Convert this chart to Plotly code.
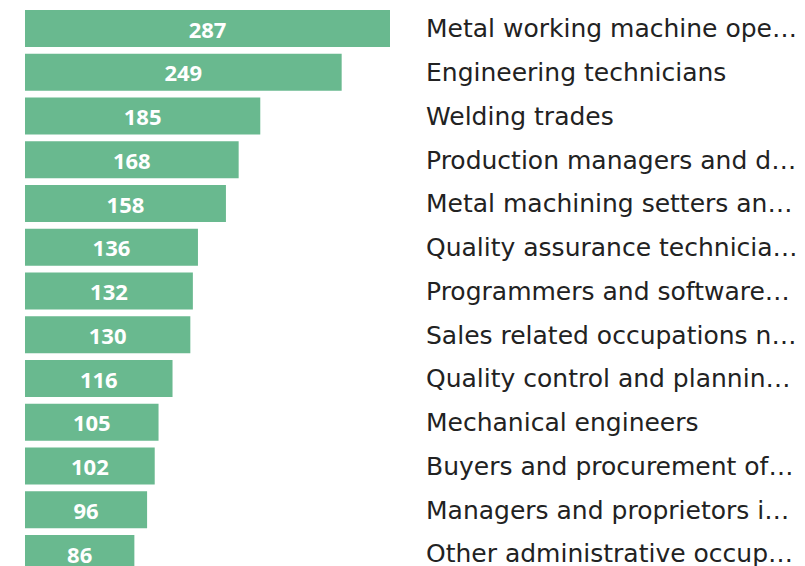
import plotly.graph_objects as go

categories = [
    "Metal working machine ope…",
    "Engineering technicians",
    "Welding trades",
    "Production managers and d…",
    "Metal machining setters an…",
    "Quality assurance technicia…",
    "Programmers and software…",
    "Sales related occupations n…",
    "Quality control and plannin…",
    "Mechanical engineers",
    "Buyers and procurement of…",
    "Managers and proprietors i…",
    "Other administrative occup…",
]
values = [287, 249, 185, 168, 158, 136, 132, 130, 116, 105, 102, 96, 86]

W, H = 805, 566
OFF = 8  # page body margin
plot_left = 25 - OFF
plot_right = 409 - OFF + 8
px_per_unit = 365 / 287
pitch = 43.75
first_center = 28.5 - OFF

fig = go.Figure(go.Bar(
    x=values,
    y=categories,
    orientation="h",
    marker=dict(color="#69b98f", line=dict(width=0)),
    width=37 / pitch,
    text=[str(v) for v in values],
    textposition="inside",
    insidetextanchor="middle",
    textangle=0,
    textfont=dict(family="Open Sans", size=22, color="white", weight="bold"),
    hoverinfo="skip",
))

fig.update_layout(
    width=W, height=H,
    margin=dict(l=plot_left, r=W - plot_right, t=0, b=0, autoexpand=False),
    paper_bgcolor="white",
    plot_bgcolor="white",
    showlegend=False,
)
fig.update_xaxes(
    range=[0, (plot_right - plot_left) / px_per_unit],
    visible=False, showgrid=False, zeroline=False, fixedrange=True,
)
fig.update_yaxes(
    type="category",
    side="right",
    range=[(H - first_center) / pitch, -first_center / pitch],
    showgrid=False, zeroline=False, showline=False, ticks="",
    ticklabelstandoff=8,
    tickfont=dict(family="DejaVu Sans", size=25, color="#222222"),
    automargin=False,
)

fig.write_html("out.html")
